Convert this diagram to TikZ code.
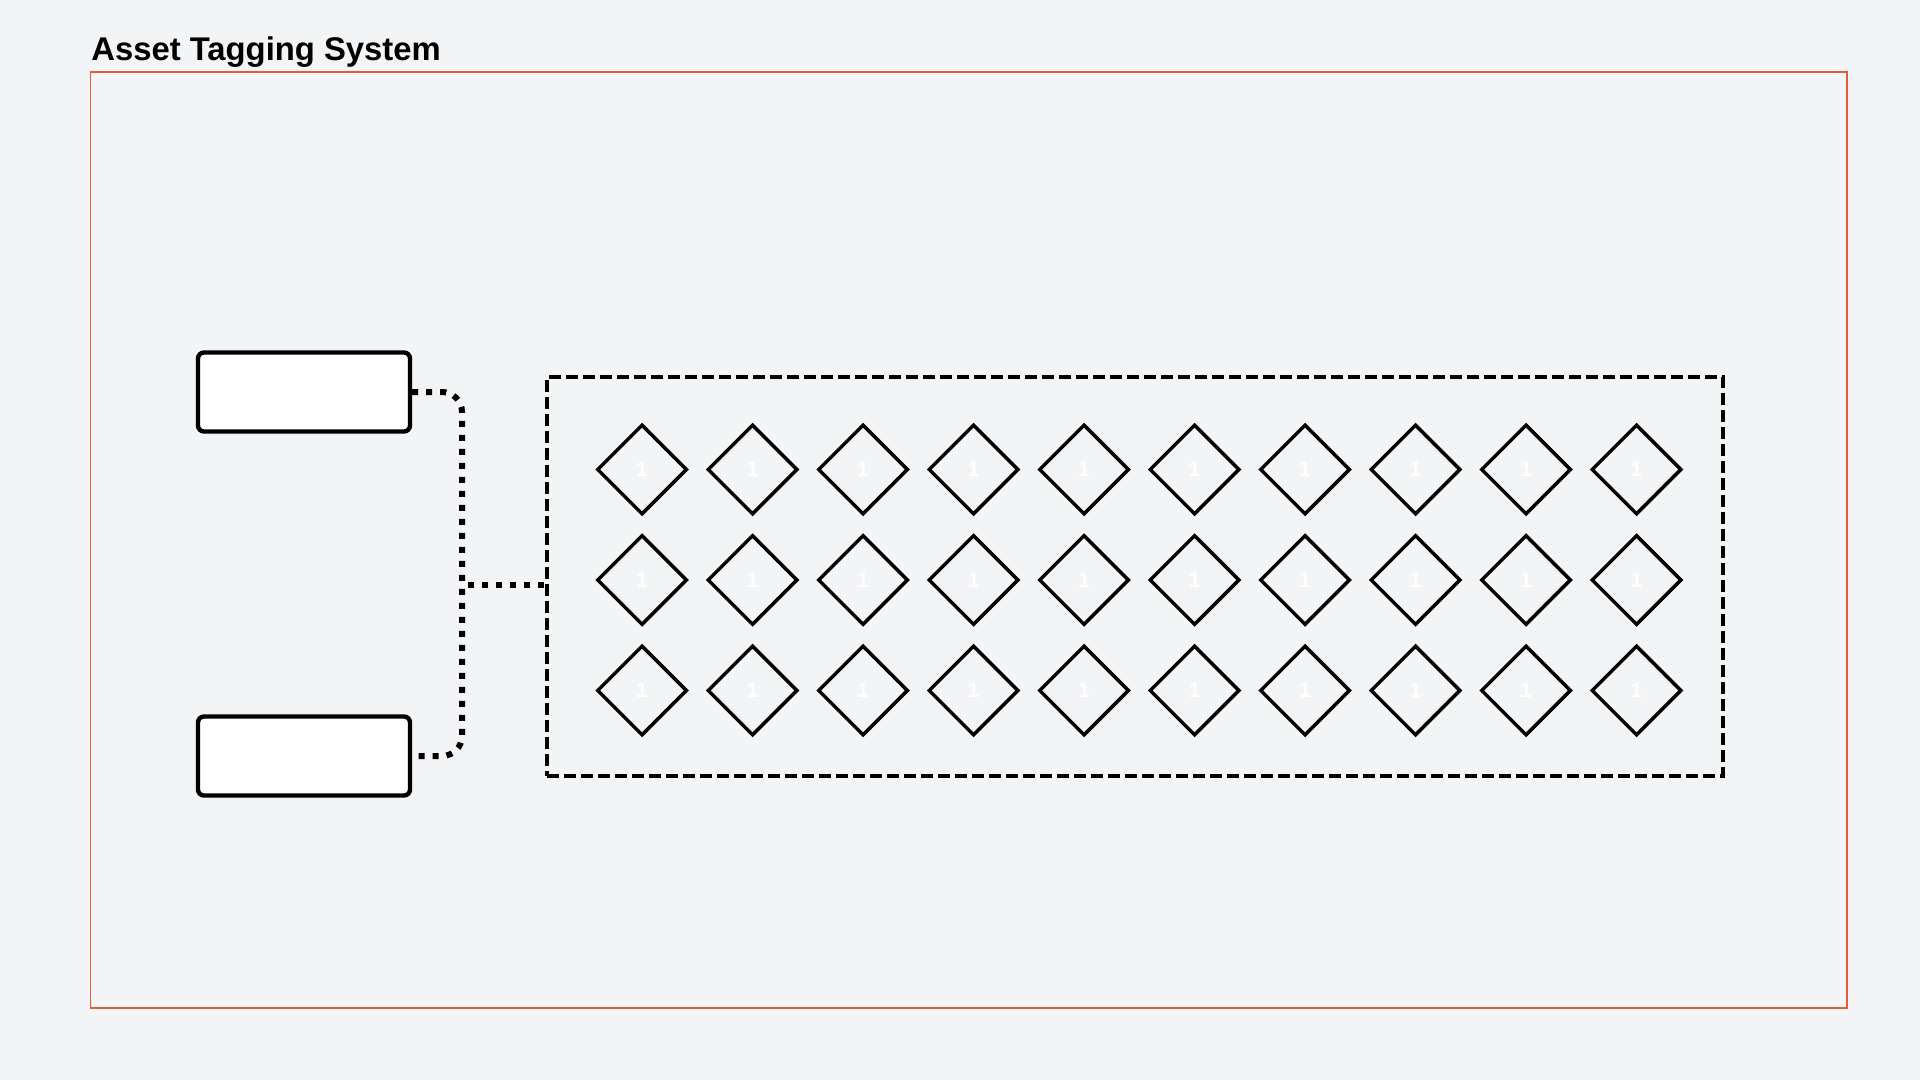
\documentclass[tikz,border=0pt]{standalone}
\usepackage{fontspec}
\setmainfont{Liberation Sans}
\usetikzlibrary{shapes.geometric}
\definecolor{bg}{HTML}{F3F4F6}
\definecolor{framecol}{RGB}{228,92,60}
\begin{document}
\begin{tikzpicture}[x=0.5pt,y=-0.5pt,
  srcbox/.style={draw=black, fill=white, line width=2.2pt, rounded corners=3pt, minimum width=106pt, minimum height=39.5pt, inner sep=0pt},
  tag/.style={diamond, aspect=1, draw=black, line width=1.75pt, minimum width=45pt, minimum height=45pt, inner sep=0pt, text=white, font=\bfseries\fontsize{10.5}{12}\selectfont},
  dotline/.style={line width=3pt, dash pattern=on 3pt off 4pt},
  grpbox/.style={draw=black, line width=2pt, dash pattern=on 6pt off 2.5pt, inner sep=0pt}
]
\fill[bg] (0,0) rectangle (1920,1080);
\useasboundingbox (0,0) rectangle (1920,1080);
\draw[framecol, line width=0.55pt] (90.7,72) rectangle (1847,1008);
\node[anchor=base west, inner sep=0pt, font=\bfseries\fontsize{16.4}{19}\selectfont] (title) at (91,61) {Asset Tagging System};
\node[srcbox] (src1) at (304,392) {};
\node[srcbox] (src2) at (304,756) {};
\node[grpbox, minimum width=588pt, minimum height=199.5pt] (grp) at (1135,576.5) {};
\foreach \r in {0,1,2}{
  \foreach \c in {0,...,9}{
    \node[tag] (d-\r-\c) at ({642+110.5*\c},{469.5+110.5*\r}) {1};
  }
}
\coordinate (j) at (462,585);
\draw[dotline, rounded corners=10pt] (src1.east) -| (j) |- (src2.east);
\draw[dotline] ([xshift=3pt]j) -- (j -| grp.west);
\end{tikzpicture}
\end{document}
